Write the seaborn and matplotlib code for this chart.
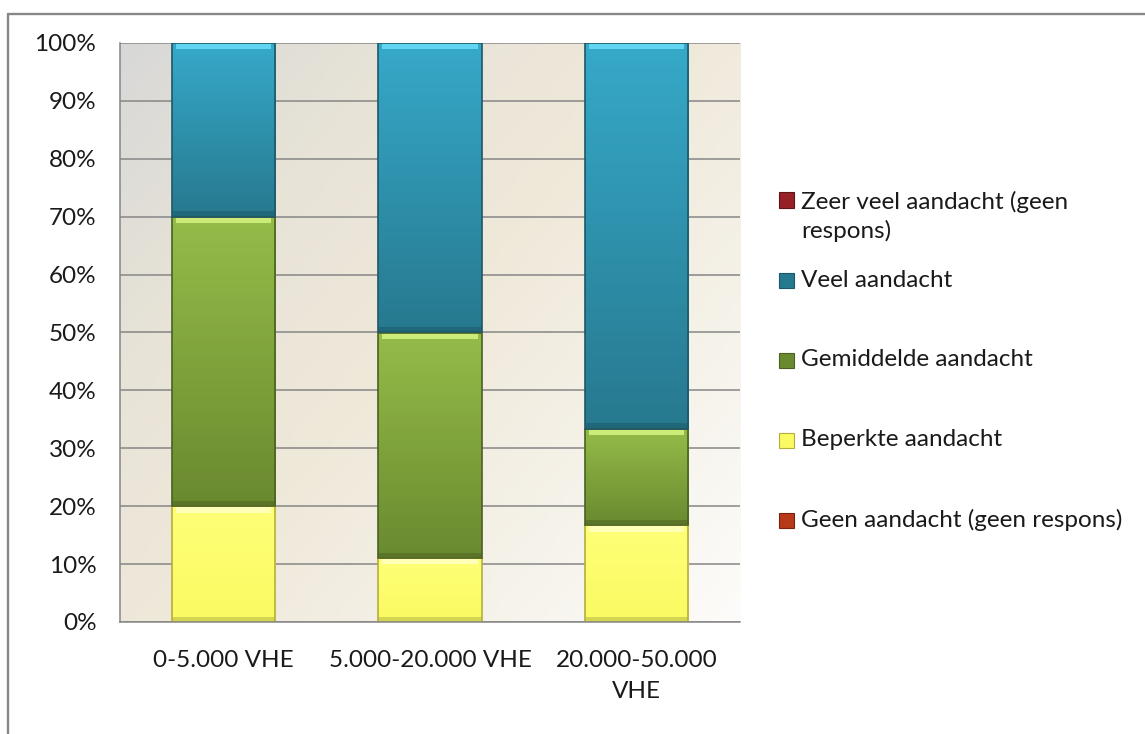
import numpy as np
import pandas as pd
import seaborn as sns
import matplotlib.pyplot as plt
import matplotlib.colors as mcolors
from matplotlib.patches import Rectangle
from matplotlib.lines import Line2D

# Data (percent of respondents per size class)
categories = ['0-5.000 VHE', '5.000-20.000 VHE', '20.000-50.000\nVHE']
geen = [0.0, 0.0, 0.0]
beperkte = [20.0, 11.1, 16.7]
gemiddelde = [50.0, 38.9, 16.7]
veel = [30.0, 50.0, 66.6]
zeer_veel = [0.0, 0.0, 0.0]

# series from bottom to top of the stack
series_names = ['Geen aandacht (geen respons)', 'Beperkte aandacht',
                'Gemiddelde aandacht', 'Veel aandacht',
                'Zeer veel aandacht (geen\nrespons)']
series_values = [geen, beperkte, gemiddelde, veel, zeer_veel]
# (top colour, bottom colour, edge colour, bevel highlight)
series_colors = [('#D4501F', '#B8381A', '#7A2410', '#F08060'),
                 ('#FFFF78', '#FAFA62', '#B5AE3C', '#FFFFB8'),
                 ('#95BC49', '#6A8A2F', '#4A6122', '#CDEB78'),
                 ('#36A9C9', '#27798F', '#1D5868', '#62D6F0'),
                 ('#B0343A', '#962025', '#5E1418', '#D86068')]

sns.set_style('white')
plt.rcParams['font.family'] = ['Lato', 'DejaVu Sans']
FS = 17.5

fig = plt.figure(figsize=(11.45, 7.34), dpi=100)
ax = fig.add_axes([120 / 1145, 1 - 622 / 734, 620 / 1145, 579 / 734])

# Plot area background gradient (grey top-left -> cream -> white bottom-right)
bg_cmap = mcolors.LinearSegmentedColormap.from_list(
    'bg', ['#D8D8D7', '#E7E3D7', '#EFE9DA', '#F5F2E9', '#FDFCFA'])
gx, gy = np.meshgrid(np.linspace(0, 1, 200), np.linspace(0, 1, 200))
ax.imshow(0.55 * gx + 0.45 * gy, cmap=bg_cmap, extent=(-0.5, 2.5, 0, 100),
          aspect='auto', zorder=0, origin='upper')

# Stacked bars
bottom = np.zeros(len(categories))
for vals, (ctop, cbot, cedge, chl) in zip(series_values, series_colors):
    vals = np.array(vals)
    if vals.sum() > 0:
        n0 = len(ax.patches)
        sns.barplot(x=categories, y=vals, bottom=bottom, color=ctop, width=0.5,
                    saturation=1, edgecolor=cedge, linewidth=1.2, ax=ax, zorder=2)
        cmap = mcolors.LinearSegmentedColormap.from_list('s', [ctop, cbot])
        for p in ax.patches[n0:]:
            x0, y0, w, h = p.get_x(), p.get_y(), p.get_width(), p.get_height()
            im = ax.imshow(np.linspace(0, 1, 64)[:, None], cmap=cmap,
                           extent=(x0, x0 + w, y0, y0 + h), aspect='auto',
                           zorder=2.1, origin='upper')
            im.set_clip_path(p)
            p.set_facecolor('none')
            p.set_zorder(2.3)
            # light bevel on the top edge of each segment
            ax.add_patch(Rectangle((x0 + w * 0.04, y0 + h - 1.1), w * 0.92, 1.1,
                                   facecolor=chl, edgecolor='none', zorder=2.2))
            # darker shadow band at the bottom of each segment
            sh = tuple(c * 0.85 for c in mcolors.to_rgb(cbot))
            ax.add_patch(Rectangle((x0, y0), w, 0.9,
                                   facecolor=sh, edgecolor='none', zorder=2.2))
    bottom = bottom + vals

ax.set_xlim(-0.5, 2.5)
ax.set_ylim(0, 100)
ax.set_yticks(np.arange(0, 101, 10))
ax.set_yticklabels([f'{v}%' for v in range(0, 101, 10)])
ax.yaxis.grid(True, color='#868686', linewidth=1.1)
ax.set_axisbelow(True)
for g in ax.get_ygridlines():
    g.set_zorder(1)
ax.tick_params(axis='both', length=0, labelsize=FS, colors='#1A1A1A')
ax.tick_params(axis='y', pad=17)
ax.tick_params(axis='x', pad=20)
for t in ax.get_xticklabels():
    t.set_linespacing(1.6)
for s in ['top', 'right']:
    ax.spines[s].set_visible(False)
for s in ['left', 'bottom']:
    ax.spines[s].set_color('#868686')
    ax.spines[s].set_linewidth(1.1)
    ax.spines[s].set_zorder(3)
ax.set_xlabel('')
ax.set_ylabel('')

# Legend (top series first)
leg_y = [520, 440, 360, 280, 200]
for name, (ctop, cbot, cedge, chl), ypx in zip(series_names, series_colors, leg_y):
    yc = 1 - ypx / 734
    fig.patches.append(Rectangle((779 / 1145, yc - 7.5 / 734), 15 / 1145, 15 / 734,
                                 transform=fig.transFigure, facecolor=cbot,
                                 edgecolor=cedge, linewidth=0.8))
    ty = yc - (16.5 / 734 if '\n' in name else 0)
    fig.text(801 / 1145, ty, name, fontsize=FS, va='center', ha='left',
             color='#1A1A1A', linespacing=1.35)

# Outer chart frame
fig.add_artist(Line2D([7.5 / 1145, 7.5 / 1145], [0, 1 - 13.5 / 734],
                      transform=fig.transFigure, color='#878787', linewidth=1.7))
fig.add_artist(Line2D([7.5 / 1145, 1], [1 - 13.5 / 734, 1 - 13.5 / 734],
                      transform=fig.transFigure, color='#878787', linewidth=1.7))

plt.savefig('out.png', dpi=100)
